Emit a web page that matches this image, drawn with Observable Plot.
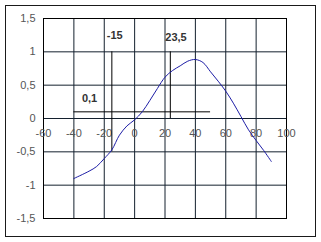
<!DOCTYPE html>
<html>
<head>
<meta charset="utf-8">
<script src="https://cdn.jsdelivr.net/npm/d3@7"></script>
<script src="https://cdn.jsdelivr.net/npm/@observablehq/plot@0.6"></script>
<style>
  html, body { margin: 0; padding: 0; background: #fff; }
  #chart svg { display: block; }
</style>
</head>
<body>
<div id="chart"></div>
<script>
const xs = [-40, -30, -25, -20, -15, -10, -5, 0, 5, 10, 15, 20, 25, 30, 35, 40, 45, 50, 55, 60, 65, 70, 75, 80, 85, 90];
const ys = [-0.9, -0.79, -0.72, -0.6, -0.47, -0.25, -0.11, -0.02, 0.1, 0.27, 0.45, 0.62, 0.72, 0.79, 0.86, 0.885, 0.84, 0.7, 0.56, 0.41, 0.23, 0.03, -0.17, -0.33, -0.48, -0.645];
const xTicks = [-60, -40, -20, 0, 20, 40, 60, 80, 100];
const yTicks = [-1.5, -1, -0.5, 0, 0.5, 1, 1.5];
const markerX1 = -15;
const markerX2 = 23.5;
const markerY = 0.1;

const comma = d => String(d).replace(".", ",");
const data = xs.map((x, i) => ({x, y: ys[i]}));
const gridColor = "#14202e";

const plot = Plot.plot({
  width: 321,
  height: 242,
  marginLeft: 43,
  marginRight: 35,
  marginTop: 18,
  marginBottom: 24,
  style: {fontFamily: "Liberation Sans, Arial, sans-serif", fontSize: "11px", background: "#fff"},
  x: {domain: [-60, 100], axis: null},
  y: {domain: [-1.5, 1.5], axis: null},
  marks: [
    Plot.gridX(xTicks, {stroke: gridColor, strokeOpacity: 1, strokeWidth: 1}),
    Plot.gridY(yTicks, {stroke: gridColor, strokeOpacity: 1, strokeWidth: 1}),
    Plot.frame({stroke: "#000"}),
    Plot.text(yTicks, {x: -60, y: d => d, text: comma, textAnchor: "end", dx: -8, fill: "#555"}),
    Plot.text(xTicks, {x: d => d, y: 0, text: comma, dy: 15, fill: "#555"}),
    Plot.ruleX([markerX1], {y1: -0.5, y2: 1, stroke: "#000"}),
    Plot.ruleX([markerX2], {y1: 0, y2: 1, stroke: "#000"}),
    Plot.ruleY([markerY], {x1: -40, x2: 50, stroke: "#000"}),
    Plot.line(data, {x: "x", y: "y", stroke: "#1e1ea6", strokeWidth: 1, curve: "catmull-rom"}),
    Plot.text([markerX1], {x: d => d, y: 1, text: comma, textAnchor: "start", dx: -5, dy: -16, fill: "#333", fontWeight: "bold"}),
    Plot.text([markerX2], {x: d => d, y: 1, text: comma, textAnchor: "start", dx: -5, dy: -14, fill: "#333", fontWeight: "bold"}),
    Plot.text([markerY], {x: -40, y: d => d, text: comma, textAnchor: "start", dx: 8, dy: -13, fill: "#333", fontWeight: "bold"})
  ]
});

d3.select(plot).insert("rect", ":first-child")
  .attr("x", 5.5).attr("y", 5.5).attr("width", 310).attr("height", 231)
  .attr("fill", "none").attr("stroke", "#1a1a1a").attr("stroke-width", 1);

document.getElementById("chart").appendChild(plot);
</script>
</body>
</html>
